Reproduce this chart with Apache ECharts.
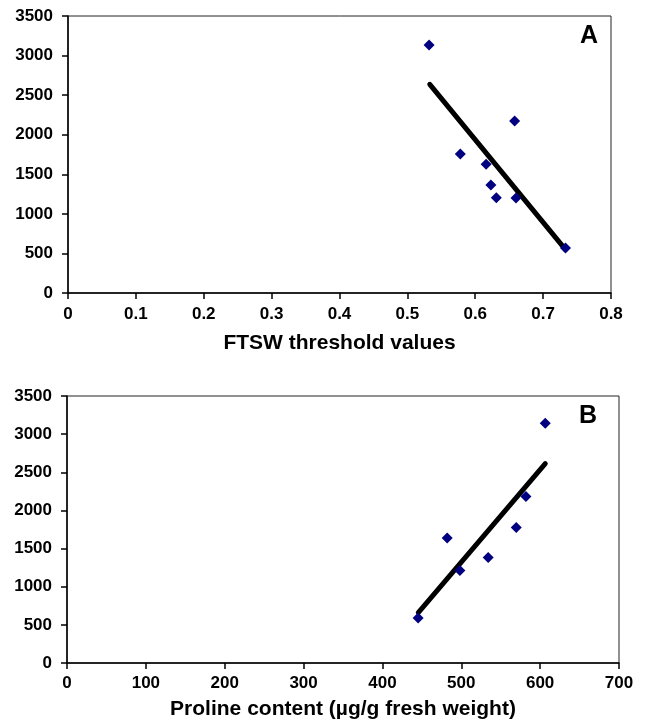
<!DOCTYPE html>
<html>
<head>
<meta charset="utf-8">
<script src="https://cdn.jsdelivr.net/npm/echarts@6/dist/echarts.min.js"></script>
<style>
html,body{margin:0;padding:0;background:#fff;}
#chart{width:645px;height:727px;}
</style>
</head>
<body>
<div id="chart"></div>
<script>
// Panel A: FTSW threshold values vs Y
const ftswValues = [0.532, 0.578, 0.616, 0.623, 0.631, 0.658, 0.660, 0.733];
const yValuesA   = [3134, 1756, 1626, 1365, 1205, 2173, 1200, 569];
const trendAx = [0.533, 0.733];
const trendAy = [2637, 548];

// Panel B: Proline content vs Y
const prolineValues = [445.3, 482.1, 498.2, 534.1, 569.7, 582.0, 606.5];
const yValuesB      = [590, 1639, 1211, 1382, 1775, 2181, 3142];
const trendBx = [445.5, 606.5];
const trendBy = [661, 2614];

const xTitleA = 'FTSW threshold values';
const xTitleB = 'Proline content (µg/g fresh weight)';
const panelLabels = ['A', 'B'];

const FONT = '"Liberation Sans", Arial, Helvetica, sans-serif';

function pairs(xs, ys) { return xs.map((x, i) => [x, ys[i]]); }

const axisCommon = {
  axisLine: { show: true, onZero: false, lineStyle: { color: '#000', width: 1.5 } },
  axisTick: { show: true, inside: false, length: 6, lineStyle: { color: '#000', width: 1.5 } },
  splitLine: { show: false },
  axisLabel: { color: '#000', fontFamily: FONT, fontWeight: 'bold', fontSize: 17 }
};
const plainNum = v => String(Math.round(v * 10) / 10);

const chart = echarts.init(document.getElementById('chart'), null, { renderer: 'canvas' });
chart.setOption({
  animation: false,
  backgroundColor: '#fff',
  grid: [
    { left: 68, top: 16, right: 34, height: 277, show: true, borderColor: '#222', borderWidth: 1, containLabel: false },
    { left: 67, top: 396, right: 26, height: 267, show: true, borderColor: '#222', borderWidth: 1, containLabel: false }
  ],
  xAxis: [
    Object.assign({}, axisCommon, {
      gridIndex: 0, type: 'value', min: 0, max: 0.8, interval: 0.1,
      name: xTitleA, nameLocation: 'middle', nameGap: 40,
      nameTextStyle: { color: '#000', fontFamily: FONT, fontWeight: 'bold', fontSize: 21 },
      axisLabel: Object.assign({}, axisCommon.axisLabel, { margin: 13, formatter: plainNum })
    }),
    Object.assign({}, axisCommon, {
      gridIndex: 1, type: 'value', min: 0, max: 700, interval: 100,
      name: xTitleB, nameLocation: 'middle', nameGap: 36,
      nameTextStyle: { color: '#000', fontFamily: FONT, fontWeight: 'bold', fontSize: 21 },
      axisLabel: Object.assign({}, axisCommon.axisLabel, { margin: 12, formatter: plainNum })
    })
  ],
  yAxis: [
    Object.assign({}, axisCommon, {
      gridIndex: 0, type: 'value', min: 0, max: 3500, interval: 500,
      axisLabel: Object.assign({}, axisCommon.axisLabel, { margin: 15, formatter: plainNum })
    }),
    Object.assign({}, axisCommon, {
      gridIndex: 1, type: 'value', min: 0, max: 3500, interval: 500,
      axisLabel: Object.assign({}, axisCommon.axisLabel, { margin: 15, formatter: plainNum })
    })
  ],
  series: [
    {
      type: 'line', xAxisIndex: 0, yAxisIndex: 0, data: pairs(trendAx, trendAy),
      showSymbol: false, symbol: 'none', lineStyle: { color: '#000', width: 5, cap: 'round' }, z: 2
    },
    {
      type: 'scatter', xAxisIndex: 0, yAxisIndex: 0, data: pairs(ftswValues, yValuesA),
      symbol: 'diamond', symbolSize: 11, itemStyle: { color: '#000080', opacity: 1 }, z: 3
    },
    {
      type: 'line', xAxisIndex: 1, yAxisIndex: 1, data: pairs(trendBx, trendBy),
      showSymbol: false, symbol: 'none', lineStyle: { color: '#000', width: 5, cap: 'round' }, z: 2
    },
    {
      type: 'scatter', xAxisIndex: 1, yAxisIndex: 1, data: pairs(prolineValues, yValuesB),
      symbol: 'diamond', symbolSize: 11, itemStyle: { color: '#000080', opacity: 1 }, z: 3
    }
  ],
  graphic: [
    { type: 'text', left: 580, top: 24, style: { text: panelLabels[0], fill: '#000', font: 'bold 25px ' + FONT } },
    { type: 'text', left: 579, top: 404, style: { text: panelLabels[1], fill: '#000', font: 'bold 25px ' + FONT } }
  ]
});
</script>
</body>
</html>
